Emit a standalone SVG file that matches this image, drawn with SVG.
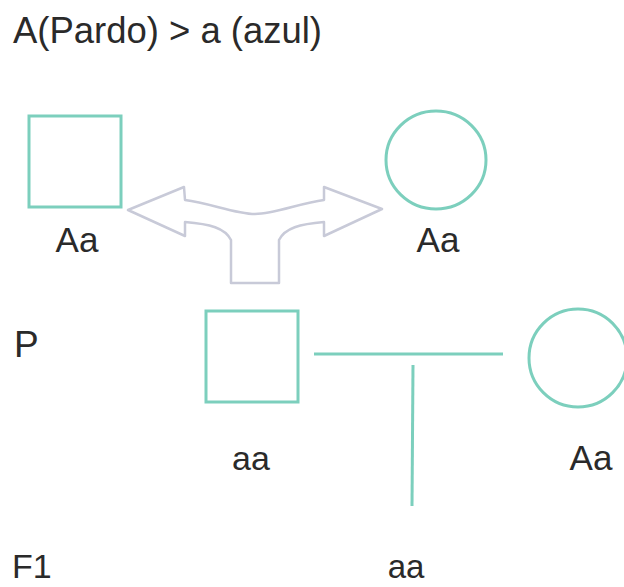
<svg xmlns="http://www.w3.org/2000/svg" width="624" height="587" viewBox="0 0 624 587">
<style>
.t{font-family:"Liberation Sans","DejaVu Sans",sans-serif;fill:#2a2a2a}
.sym{fill:none;stroke:#7ccfbd;stroke-width:3}
.arr{fill:#fff;stroke:#c8cad8;stroke-width:2.5;stroke-linejoin:round}
</style>
<rect width="624" height="587" fill="#fff"/>
<text class="t" x="13" y="43" font-size="37" textLength="309" lengthAdjust="spacingAndGlyphs">A(Pardo) &gt; a (azul)</text>
<g id="arrow">
<path class="arr" d="M128,210 L184,187 L185,200 C210,203 235,214 255,214 C275,214 300,203 324,200 L324,187 L382,209 L324,236 L324,222 C300,224 285,228 279,240 L279,283 L231,283 L231,240 C225,228 210,224 185,222 L185,236 Z"/>
</g>
<g id="male1"><rect class="sym" x="29" y="116" width="92" height="91"/><text class="t" x="77" y="252" font-size="35" text-anchor="middle">Aa</text></g>
<g id="female1"><ellipse class="sym" cx="436" cy="160" rx="50" ry="49"/><text class="t" x="438" y="252" font-size="35" text-anchor="middle">Aa</text></g>
<text class="t" x="14" y="357" font-size="37">P</text>
<text class="t" x="12" y="578" font-size="34">F1</text>
<g id="male2"><rect class="sym" x="206" y="311" width="92" height="91"/><text class="t" x="251" y="470" font-size="34" text-anchor="middle">aa</text></g>
<g id="female2"><ellipse class="sym" cx="578" cy="358" rx="49" ry="49"/><text class="t" x="591" y="470" font-size="35" text-anchor="middle">Aa</text></g>
<g id="child"><text class="t" x="406" y="578" font-size="33" text-anchor="middle">aa</text></g>
<g id="connectors">
<line class="sym" x1="314" y1="354" x2="503" y2="354"/>
<line class="sym" x1="413" y1="365" x2="412" y2="506"/>
</g>
</svg>
